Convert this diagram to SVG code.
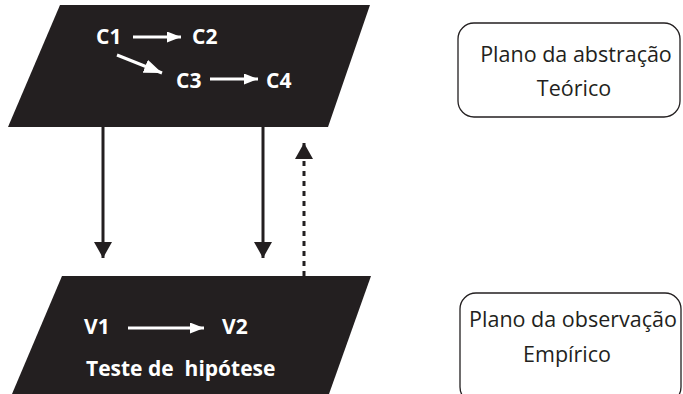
<svg xmlns="http://www.w3.org/2000/svg" width="683" height="394" viewBox="0 0 683 394">
<defs>
<style>
.plane{fill:#231f20}
.wt{fill:#ffffff;font-family:"Open Sans","Noto Sans",sans-serif;font-weight:bold;font-size:21px}
.bt{fill:#231f20;font-family:"Open Sans","Noto Sans",sans-serif;font-size:21.5px}
.box{fill:#ffffff;stroke:#231f20;stroke-width:1.3}
.wl{stroke:#ffffff;stroke-width:3;fill:none}
.dl{stroke:#231f20;stroke-width:3;fill:none}
.dd{stroke:#231f20;stroke-width:3;fill:none;stroke-dasharray:5 5}
</style>
<marker id="wh" viewBox="0 0 10 10" refX="10" refY="5" markerWidth="14" markerHeight="11" markerUnits="userSpaceOnUse" preserveAspectRatio="none" orient="auto"><path d="M0,0 L10,5 L0,10 z" fill="#ffffff"/></marker>
<marker id="wh2" viewBox="0 0 10 10" refX="10" refY="5" markerWidth="18" markerHeight="14" markerUnits="userSpaceOnUse" preserveAspectRatio="none" orient="auto"><path d="M0,0 L10,5 L0,10 z" fill="#ffffff"/></marker>
<marker id="bh" viewBox="0 0 10 10" refX="10" refY="5" markerWidth="16" markerHeight="18" markerUnits="userSpaceOnUse" preserveAspectRatio="none" orient="auto"><path d="M0,0 L10,5 L0,10 z" fill="#231f20"/></marker>
</defs>
<g id="plano-teorico">
<polygon class="plane" points="60,5 370,5 328,127 8,127"/>
<text class="wt" x="96" y="44">C1</text>
<text class="wt" x="192" y="44">C2</text>
<text class="wt" x="176" y="88">C3</text>
<text class="wt" x="266" y="88">C4</text>
</g>
<g id="plano-empirico">
<polygon class="plane" points="62,276 371,276 329,394 12,394"/>
<text class="wt" x="84" y="334">V1</text>
<text class="wt" x="222" y="334">V2</text>
<text class="wt" x="86" y="376" xml:space="preserve">Teste de  hipótese</text>
</g>
<g id="box-abstracao">
<rect class="box" x="458" y="23" width="222" height="94" rx="16"/>
<text class="bt" x="576" y="62" text-anchor="middle">Plano da abstração</text>
<text class="bt" x="574" y="96" text-anchor="middle">Teórico</text>
</g>
<g id="box-observacao">
<rect class="box" x="460" y="293" width="221" height="110" rx="16"/>
<text class="bt" x="573" y="327" text-anchor="middle">Plano da observação</text>
<text class="bt" x="567" y="362" text-anchor="middle">Empírico</text>
</g>
<g id="connectors">
<line class="wl" x1="133" y1="37" x2="181" y2="37" marker-end="url(#wh)"/>
<line class="wl" x1="117" y1="55" x2="162" y2="73" marker-end="url(#wh2)"/>
<line class="wl" x1="210" y1="79" x2="258" y2="79" marker-end="url(#wh)"/>
<line class="wl" x1="128" y1="328" x2="204" y2="328" marker-end="url(#wh)"/>
<line class="dl" x1="103" y1="127" x2="103" y2="258" marker-end="url(#bh)"/>
<line class="dl" x1="263" y1="127" x2="263" y2="258" marker-end="url(#bh)"/>
<line class="dd" x1="304" y1="276" x2="304" y2="143" marker-end="url(#bh)"/>
</g>
</svg>
